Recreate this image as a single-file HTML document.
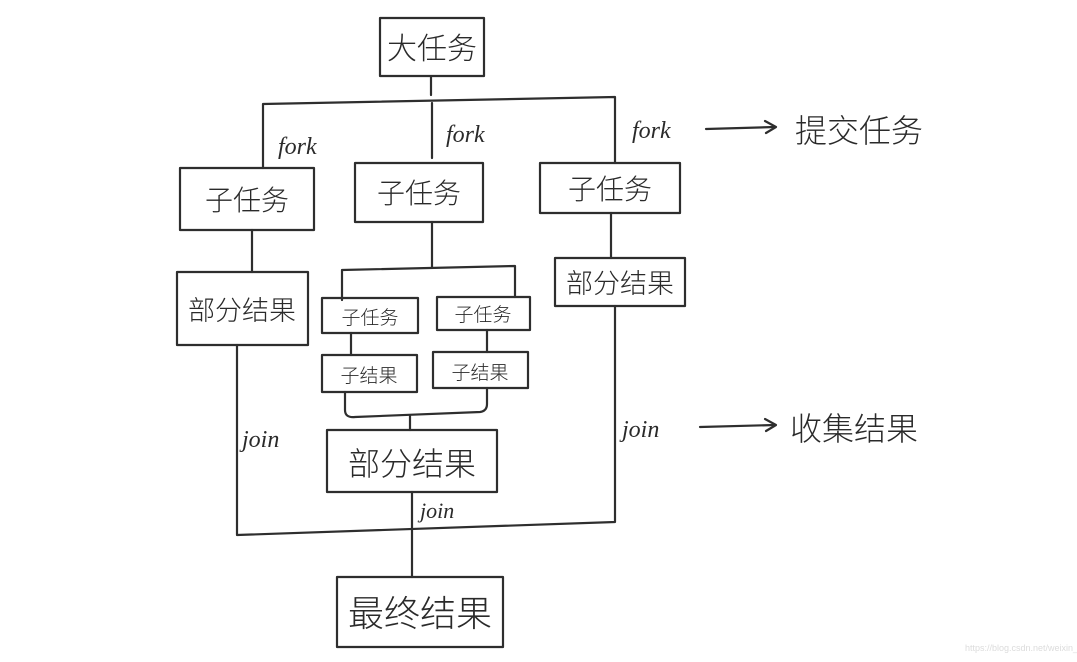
<!DOCTYPE html>
<html><head><meta charset="utf-8"><style>
html,body{margin:0;padding:0;background:#fff;}
svg{display:block;}
text{font-family:"Liberation Sans","Noto Sans CJK SC",sans-serif;fill:#2a2a2a;}
.c{font-family:"Noto Sans CJK SC","WenQuanYi Zen Hei",sans-serif;font-weight:300;}
.l{font-family:"Liberation Serif",serif;font-style:italic;}
</style></head><body>
<svg width="1077" height="662" viewBox="0 0 1077 662" xmlns="http://www.w3.org/2000/svg">
<g fill="none" stroke="#2e2e2e" stroke-width="2.2" stroke-linecap="round" stroke-linejoin="round">
<!-- top box -->
<rect x="380" y="18" width="104" height="58"/>
<line x1="431" y1="77" x2="431" y2="95"/>
<polyline points="263,168 263,104 615,97 615,163"/>
<line x1="432" y1="103" x2="432" y2="158"/>
<!-- sub boxes -->
<rect x="180" y="168" width="134" height="62"/>
<rect x="355" y="163" width="128" height="59"/>
<rect x="540" y="163" width="140" height="50"/>
<!-- left col -->
<line x1="252" y1="230" x2="252" y2="272"/>
<rect x="177" y="272" width="131" height="73"/>
<!-- right col -->
<line x1="611" y1="213" x2="611" y2="258"/>
<rect x="555" y="258" width="130" height="48"/>
<!-- middle col -->
<line x1="432" y1="222" x2="432" y2="267"/>
<polyline points="342,300 342,270 515,266 515,297"/>
<rect x="322" y="298" width="96" height="35"/>
<rect x="437" y="297" width="93" height="33"/>
<line x1="351" y1="333" x2="351" y2="355"/>
<line x1="487" y1="330" x2="487" y2="352"/>
<rect x="322" y="355" width="95" height="37"/>
<rect x="433" y="352" width="95" height="36"/>
<path d="M345,392 L345,410 Q345,418 355,417 L480,412 Q487,411 487,404 L487,388"/>
<line x1="410" y1="416" x2="410" y2="430"/>
<rect x="327" y="430" width="170" height="62"/>
<!-- outer join -->
<polyline points="237,345 237,535 615,522 615,306"/>
<line x1="412" y1="492" x2="412" y2="577"/>
<rect x="337" y="577" width="166" height="70"/>
<!-- arrows -->
<line x1="706" y1="129" x2="775" y2="127"/>
<polyline points="765,121 776,127 766,133"/>
<line x1="700" y1="427" x2="775" y2="425"/>
<polyline points="765,419 776,425 766,431"/>
</g>
<text class="c" x="432" y="59" font-size="30" text-anchor="middle">大任务</text>
<text class="l" x="278" y="154" font-size="24">fork</text>
<text class="l" x="446" y="142" font-size="24">fork</text>
<text class="l" x="632" y="138" font-size="24">fork</text>
<text class="c" x="795" y="142" font-size="32">提交任务</text>
<text class="c" x="247" y="210" font-size="28" text-anchor="middle">子任务</text>
<text class="c" x="419" y="203" font-size="28" text-anchor="middle">子任务</text>
<text class="c" x="610" y="199" font-size="28" text-anchor="middle">子任务</text>
<text class="c" x="242" y="320" font-size="27" text-anchor="middle">部分结果</text>
<text class="c" x="620" y="293" font-size="27" text-anchor="middle">部分结果</text>
<text class="c" x="370" y="324" font-size="19" text-anchor="middle">子任务</text>
<text class="c" x="483" y="321" font-size="19" text-anchor="middle">子任务</text>
<text class="c" x="369" y="382" font-size="19" text-anchor="middle">子结果</text>
<text class="c" x="480" y="379" font-size="19" text-anchor="middle">子结果</text>
<text class="c" x="412" y="475" font-size="32" text-anchor="middle">部分结果</text>
<text class="l" x="242" y="447" font-size="24">join</text>
<text class="l" x="622" y="437" font-size="24">join</text>
<text class="l" x="420" y="518" font-size="22">join</text>
<text class="c" x="790" y="440" font-size="32">收集结果</text>
<text class="c" x="420" y="626" font-size="36" text-anchor="middle">最终结果</text>
<text x="965" y="651" font-size="9" fill="#ddd" style="fill:#dcdcdc">https://blog.csdn.net/weixin_qq</text>
</svg>
</body></html>
